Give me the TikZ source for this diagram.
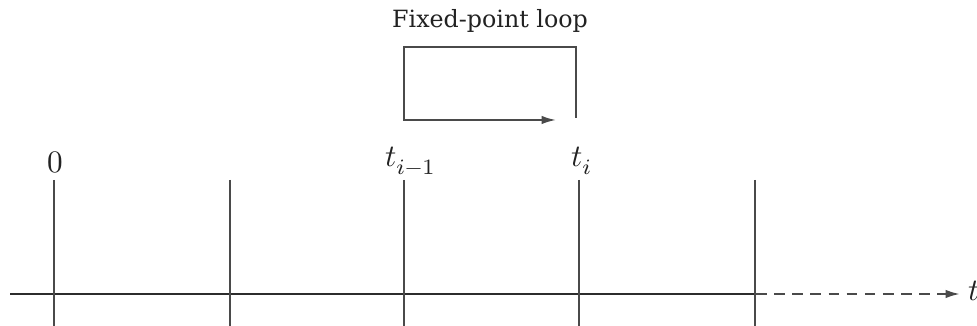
\documentclass[tikz,border=0pt]{standalone}
\usepackage{fontspec}
\setmainfont{DejaVu Serif}
\usepackage{unicode-math}
\setmathfont{Latin Modern Math}
\usetikzlibrary{arrows.meta, positioning, calc}
\definecolor{tline}{HTML}{4A4A4A}
\definecolor{tdark}{HTML}{222222}

\begin{document}
\begin{tikzpicture}[
    x=0.32pt, y=-0.32pt,
    >={Latex[length=4.6pt, width=2.7pt]},
    tick/.style={draw=tline, line width=0.6pt},
    axis/.style={draw=tline!60!black, line width=0.8pt},
    future/.style={->, draw=tline, line width=0.7pt, dash pattern=on 3.4pt off 2.4pt},
    loopline/.style={->, draw=tline, line width=0.6pt},
    lbl/.style={font=\fontsize{10}{12}\selectfont, text=tdark, inner sep=0pt, anchor=base},
    title/.style={font=\fontsize{7.6}{9}\selectfont, text=tdark, inner sep=0pt}
  ]
  \useasboundingbox (0,0) rectangle (977,326);

  % Axe du temps
  \coordinate (ax-l) at (10,294);
  \coordinate (ax-m) at (756,294);
  \coordinate (ax-r) at (960,294);
  \draw[axis] (ax-l) -- (ax-m);
  \draw[future] (ax-m) -- (ax-r);
  \node[lbl, anchor=base west] (tlab) at (968,301) {$t$};

  % Pas de temps
  \foreach \i/\x in {0/54, 1/230, 2/404, 3/579, 4/755} {
    \coordinate (top\i) at (\x,180);
    \coordinate (bot\i) at (\x,326);
    \draw[tick] (top\i) -- (bot\i);
  }

  % Etiquettes des instants (un peu a droite du trait pour t_i)
  \node[lbl] (l0) at ($(top0)+(1,-7)$) {$0$};
  \node[lbl] (l2) at ($(top2)+(7,-13)$) {$t_{i-1}$};
  \node[lbl] (l3) at ($(top3)+(3,-13)$) {$t_i$};

  % Boucle de point fixe
  \coordinate (lp-r) at (576,118);
  \coordinate (lp-tl) at (404,47);
  \coordinate (lp-end) at (556,120);
  \draw[loopline] (lp-r) |- (lp-tl) |- (lp-end);
  \node[title] (fp) at (490,21) {Fixed-point loop};

\end{tikzpicture}
\end{document}
